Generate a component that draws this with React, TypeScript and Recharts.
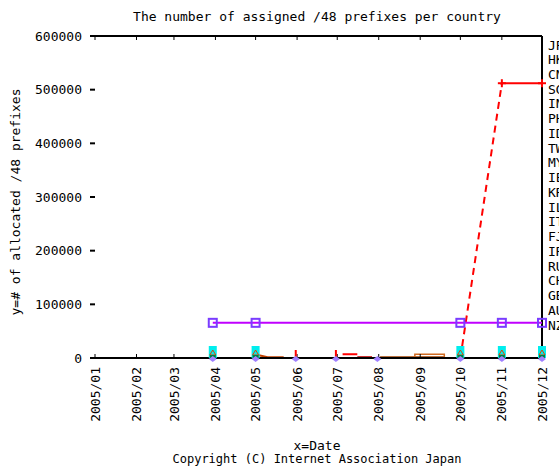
import { LineChart, Line, XAxis, YAxis, ReferenceLine } from 'recharts'

// x values are days since 2005/01/01
const monthDays = [0, 31, 59, 90, 120, 151, 181, 212, 243, 273, 304, 334]
const monthLabels = [
  '2005/01', '2005/02', '2005/03', '2005/04', '2005/05', '2005/06',
  '2005/07', '2005/08', '2005/09', '2005/10', '2005/11', '2005/12',
]
const yTicks = [0, 100000, 200000, 300000, 400000, 500000, 600000]

const countries = [
  'JP', 'HK', 'CN', 'SG', 'IN', 'PH', 'ID', 'TW', 'MY', 'IE',
  'KR', 'IL', 'IT', 'FJ', 'IR', 'RU', 'CH', 'GB', 'AU', 'NZ',
]

const purpleDays = [88, 120, 273, 304, 334]
const purpleVals = [65536, 65536, 65536, 65536, 65536]

const redDays = [273, 304, 334]
const redVals = [0, 512000, 512000]

const cyanDays = [88, 120, 273, 304, 334]
const cyanVals = [0, 0, 0, 0, 0]

const triDays = [88, 120, 273, 304, 334]
const triVals = [0, 0, 0, 0, 0]

const greenDays = [88, 120, 273, 304, 334]
const greenVals = [0, 0, 0, 0, 0]

const diamondDays = [88, 120, 150, 180, 211, 273, 304, 334]
const diamondVals = [0, 0, 0, 0, 0, 0, 0, 0]

const redTickDays = [150, 180]
const redTickVals = [0, 0]

const redSmallDays = [185, 196]
const redSmallVals = [7000, 7000]

const darkRedDays = [196, 207]
const darkRedVals = [1500, 1500]

const brownDays = [120, 129, 141]
const brownVals = [6500, 1500, 1500]

const brown2Days = [213, 239, 261]
const brown2Vals = [1500, 1500, 1500]

const orangeDays = [239, 239, 261, 261]
const orangeVals = [1500, 7000, 7000, 1500]

const FONT = '"DejaVu Sans Mono", monospace'

const pts = (xs: number[], vs: number[]) => xs.map((x, i) => ({ x, v: vs[i] }))

interface DotProps {
  cx?: number
  cy?: number
  index?: number
  [key: string]: unknown
}

const squareDot = (p: DotProps) => (
  <rect key={p.index} x={p.cx! - 4} y={p.cy! - 4} width={8} height={8}
    fill="none" stroke="#7a3cff" strokeWidth={2} />
)

const plusDot = (p: DotProps) => (
  <g key={p.index} stroke="#ff0000" strokeWidth={2}>
    <line x1={p.cx! - 4} y1={p.cy} x2={p.cx! + 4} y2={p.cy} />
    <line x1={p.cx} y1={p.cy! - 4} x2={p.cx} y2={p.cy! + 4} />
  </g>
)

const cyanDot = (p: DotProps) => (
  <rect key={p.index} x={p.cx! - 4} y={p.cy! - 12} width={8} height={12} fill="#00eeee" />
)

const triDot = (p: DotProps) => (
  <path key={p.index}
    d={`M${p.cx},${p.cy! - 8} L${p.cx! + 3},${p.cy! - 3} L${p.cx! - 3},${p.cy! - 3} Z`}
    fill="none" stroke="#e04000" strokeWidth={1} />
)

const greenDot = (p: DotProps) => (
  <rect key={p.index} x={p.cx! - 3} y={p.cy! - 3} width={6} height={4} fill="#008040" />
)

const diamondDot = (p: DotProps) => (
  <path key={p.index}
    d={`M${p.cx},${p.cy! - 2} L${p.cx! + 4},${p.cy! + 1} L${p.cx},${p.cy! + 4} L${p.cx! - 4},${p.cy! + 1} Z`}
    fill="#a080ff" />
)

const redTickDot = (p: DotProps) => (
  <line key={p.index} x1={p.cx} y1={p.cy! - 8} x2={p.cx} y2={p.cy}
    stroke="#ff0000" strokeWidth={2} />
)

function DateTick({ x, y, payload }: { x: number; y: number; payload: { value: number } }) {
  const label = monthLabels[monthDays.indexOf(payload.value)]
  return (
    <text x={x} y={y} transform={`rotate(-90, ${x}, ${y})`} textAnchor="end" dy="0.35em"
      fontFamily={FONT} fontSize={13} fill="#000">
      {label}
    </text>
  )
}

export default function App() {
  // labels on "b"; "bm" = bottom frame with inward ticks; "t" = inward ticks on top
  const base = { isAnimationActive: false, activeDot: false, legendType: 'none' as const, dataKey: 'v' }
  const onB = { ...base, xAxisId: 'b', yAxisId: 'l' }
  const onBm = { ...base, xAxisId: 'bm', yAxisId: 'l' }
  const onT = { ...base, xAxisId: 't', yAxisId: 'l' }
  return (
    <div style={{ position: 'absolute', left: 0, top: 0, width: 559, height: 468, overflow: 'hidden', background: '#fff' }}>
      <LineChart width={559} height={468} margin={{ top: 36, right: 17, bottom: 0, left: 0 }}>
        <XAxis xAxisId="bm" type="number" dataKey="x" domain={[0, 334]} ticks={monthDays}
          orientation="bottom" mirror height={1} tickSize={4} tickFormatter={() => ''}
          axisLine={{ stroke: '#000', strokeWidth: 2 }} tickLine={{ stroke: '#000' }} />
        <XAxis xAxisId="b" type="number" dataKey="x" domain={[0, 334]} ticks={monthDays}
          height={110} axisLine={false} tickLine={false} tickSize={0} tickMargin={9}
          tick={DateTick} interval={0} />
        <XAxis xAxisId="t" type="number" dataKey="x" domain={[0, 334]} ticks={monthDays}
          orientation="top" mirror height={1} tickSize={4} tickFormatter={() => ''}
          axisLine={false} tickLine={{ stroke: '#000' }} />
        <YAxis yAxisId="l" domain={[0, 600000]} ticks={yTicks} width={95} interval={0}
          axisLine={false} tickSize={5} tickMargin={8}
          tickLine={{ stroke: '#000', strokeWidth: 2 }}
          tickFormatter={(v: number) => String(v)}
          tick={{ fontFamily: FONT, fontSize: 13, fill: '#000' }} />

        <ReferenceLine xAxisId="b" yAxisId="l" y={600000} stroke="#000" strokeWidth={2} />
        <ReferenceLine xAxisId="b" yAxisId="l" x={334} stroke="#000" strokeWidth={2} />

        <Line {...onBm} data={pts(cyanDays, cyanVals)} stroke="none" dot={cyanDot} />
        <Line {...onB} data={pts(brownDays, brownVals)} stroke="#c04000" strokeWidth={2} dot={false} />
        <Line {...onB} data={pts(brown2Days, brown2Vals)} stroke="#a04000" strokeWidth={2} dot={false} />
        <Line {...onB} data={pts(orangeDays, orangeVals)} stroke="#d06a20" strokeWidth={1.5} dot={false} />
        <Line {...onB} data={pts(redSmallDays, redSmallVals)} stroke="#ff0000" strokeWidth={2} dot={false} />
        <Line {...onB} data={pts(darkRedDays, darkRedVals)} stroke="#c00000" strokeWidth={2} dot={false} />
        <Line {...onB} data={pts(redTickDays, redTickVals)} stroke="none" dot={redTickDot} />
        <Line {...onB} data={pts(triDays, triVals)} stroke="none" dot={triDot} />
        <Line {...onB} data={pts(greenDays, greenVals)} stroke="none" dot={greenDot} />
        <Line {...onB} data={pts(diamondDays, diamondVals)} stroke="none" dot={diamondDot} />
        <Line {...onB} data={pts(redDays.slice(0, 2), redVals.slice(0, 2))}
          stroke="#ff0000" strokeWidth={2} strokeDasharray="7 5" dot={false} />
        <Line {...onB} data={pts(redDays.slice(1), redVals.slice(1))}
          stroke="#ff0000" strokeWidth={2} dot={plusDot} />
        <Line {...onT} data={pts(purpleDays, purpleVals)}
          stroke="#c000ff" strokeWidth={2} dot={squareDot} />
      </LineChart>

      <svg width={559} height={468} style={{ position: 'absolute', left: 0, top: 0, pointerEvents: 'none' }}
        fontFamily={FONT} fontSize={13} fill="#000">
        <text x={317} y={16} textAnchor="middle" dominantBaseline="central">
          The number of assigned /48 prefixes per country
        </text>
        <text x={15} y={202} textAnchor="middle" dominantBaseline="central" transform="rotate(-90, 15, 202)">
          y=# of allocated /48 prefixes
        </text>
        <text x={317} y={445} textAnchor="middle" dominantBaseline="central">x=Date</text>
        <text x={317} y={459} textAnchor="middle" dominantBaseline="central" fontSize={12}>
          Copyright (C) Internet Association Japan
        </text>
        {countries.map((c, i) => (
          <text key={c} x={548} y={45 + i * 14.74} dominantBaseline="central">{c}</text>
        ))}
      </svg>
    </div>
  )
}
